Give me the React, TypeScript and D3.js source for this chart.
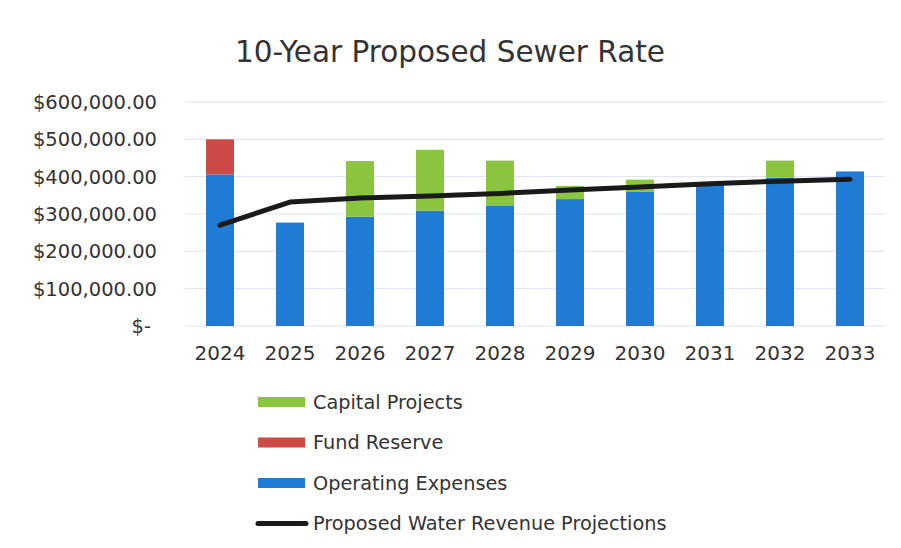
import React, { useEffect, useRef } from 'react';
import * as d3 from 'd3';

const years = ['2024', '2025', '2026', '2027', '2028', '2029', '2030', '2031', '2032', '2033'];
const operatingExpenses = [406000, 277000, 293000, 309000, 323000, 340000, 359000, 378000, 397000, 414000];
const fundReserve = [94000, 0, 0, 0, 0, 0, 0, 0, 0, 0];
const capitalProjects = [0, 0, 149000, 163000, 120000, 35000, 33000, 0, 46000, 0];
const revenueProjections = [270000, 332000, 343000, 348000, 355000, 364000, 372000, 381000, 388000, 393000];
const yTicks = [0, 100000, 200000, 300000, 400000, 500000, 600000];

const seriesInfo = [
    { key: 'operating', name: 'Operating Expenses', color: '#1f7bd3', values: operatingExpenses },
    { key: 'reserve', name: 'Fund Reserve', color: '#cc4b47', values: fundReserve },
    { key: 'capital', name: 'Capital Projects', color: '#8bc540', values: capitalProjects },
];

const App: React.FC = () => {
    const svgRef = useRef<SVGSVGElement>(null);

    useEffect(() => {
        if (!svgRef.current) return;
        const svg = d3.select(svgRef.current);
        svg.selectAll('*').remove();

        const width = 901;
        const height = 548;
        const font = '"DejaVu Sans", sans-serif';
        const textColor = '#333';

        svg.attr('width', width).attr('height', height);
        svg.append('rect').attr('width', width).attr('height', height).attr('fill', '#fff');

        // Scales
        const x = d3.scaleBand<string>()
            .domain(years)
            .range([185, 885])
            .paddingInner(0.6)
            .paddingOuter(0.3);
        const y = d3.scaleLinear().domain([0, 600000]).range([326, 102]);

        // Title
        svg.append('text')
            .attr('x', 450)
            .attr('y', 62)
            .attr('text-anchor', 'middle')
            .attr('font-family', font)
            .attr('font-size', 29.5)
            .attr('fill', textColor)
            .text('10-Year Proposed Sewer Rate');

        // Gridlines
        svg.append('g')
            .selectAll('line')
            .data(yTicks)
            .enter()
            .append('line')
            .attr('x1', 185)
            .attr('x2', 885)
            .attr('y1', d => y(d))
            .attr('y2', d => y(d))
            .attr('stroke', '#dce2ee')
            .attr('stroke-width', 1);

        // Y axis labels
        const fmt = d3.format('$,.2f');
        svg.append('g')
            .selectAll('text')
            .data(yTicks)
            .enter()
            .append('text')
            .attr('x', d => (d === 0 ? 151 : 157))
            .attr('y', d => y(d))
            .attr('dy', '0.36em')
            .attr('text-anchor', 'end')
            .attr('font-family', font)
            .attr('font-size', 19.5)
            .attr('fill', textColor)
            .text(d => (d === 0 ? '$-' : fmt(d)));

        // X axis labels
        svg.append('g')
            .selectAll('text')
            .data(years)
            .enter()
            .append('text')
            .attr('x', d => (x(d) || 0) + x.bandwidth() / 2)
            .attr('y', 360)
            .attr('text-anchor', 'middle')
            .attr('font-family', font)
            .attr('font-size', 20)
            .attr('fill', textColor)
            .text(d => d);

        // Stacked bars
        const rows = years.map((yr, i) => ({
            year: yr,
            operating: operatingExpenses[i],
            reserve: fundReserve[i],
            capital: capitalProjects[i],
        }));
        const stack = d3.stack<any>().keys(seriesInfo.map(s => s.key));
        const layers = stack(rows);

        svg.append('g')
            .selectAll('g')
            .data(layers)
            .enter()
            .append('g')
            .attr('fill', (_, i) => seriesInfo[i].color)
            .selectAll('rect')
            .data(d => d)
            .enter()
            .append('rect')
            .attr('x', d => x(d.data.year) || 0)
            .attr('width', x.bandwidth())
            .attr('y', d => y(d[1]))
            .attr('height', d => Math.max(0, y(d[0]) - y(d[1])));

        // Revenue line
        const line = d3.line<number>()
            .x((_, i) => (x(years[i]) || 0) + x.bandwidth() / 2)
            .y(d => y(d));
        svg.append('path')
            .datum(revenueProjections)
            .attr('d', line)
            .attr('fill', 'none')
            .attr('stroke', '#1a1a1a')
            .attr('stroke-width', 5)
            .attr('stroke-linecap', 'round')
            .attr('stroke-linejoin', 'round');

        // Legend
        const legendItems = [
            { name: 'Capital Projects', color: '#8bc540', type: 'rect' },
            { name: 'Fund Reserve', color: '#cc4b47', type: 'rect' },
            { name: 'Operating Expenses', color: '#1f7bd3', type: 'rect' },
            { name: 'Proposed Water Revenue Projections', color: '#1a1a1a', type: 'line' },
        ];
        const legend = svg.append('g');
        legendItems.forEach((item, i) => {
            const cy = 402 + i * 40.5;
            if (item.type === 'rect') {
                legend.append('rect')
                    .attr('x', 258)
                    .attr('y', cy - 5)
                    .attr('width', 47)
                    .attr('height', 10)
                    .attr('fill', item.color);
            } else {
                legend.append('line')
                    .attr('x1', 258)
                    .attr('x2', 306)
                    .attr('y1', cy)
                    .attr('y2', cy)
                    .attr('stroke', item.color)
                    .attr('stroke-width', 5)
                    .attr('stroke-linecap', 'round');
            }
            legend.append('text')
                .attr('x', 313)
                .attr('y', cy)
                .attr('dy', '0.36em')
                .attr('font-family', font)
                .attr('font-size', 19.3)
                .attr('fill', textColor)
                .text(item.name);
        });
    }, []);

    return (
        <svg ref={svgRef} style={{ position: 'absolute', left: 0, top: 0, display: 'block' }}></svg>
    );
};

export default App;
